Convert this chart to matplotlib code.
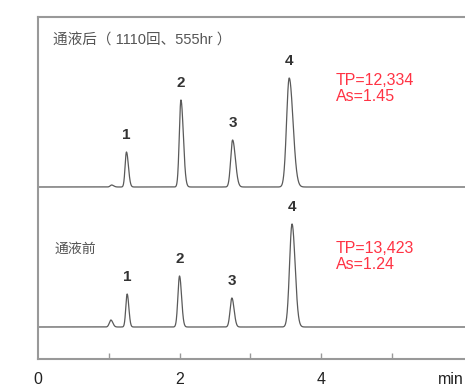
import numpy as np
import matplotlib.pyplot as plt

plt.rcParams['font.family'] = ['Liberation Sans', 'Noto Sans CJK SC', 'DejaVu Sans']

# peak table: retention time (min), height, left sigma (min), tailing factor
after_rt = [1.04, 1.25, 2.02, 2.75, 3.55]
after_h = [2, 35, 87, 47, 109]
after_sig = [0.02, 0.019, 0.023, 0.027, 0.037]
after_as = 1.45
after_tp = '12,334'

before_rt = [1.03, 1.26, 2.00, 2.74, 3.59]
before_h = [7, 33, 51, 29, 103]
before_sig = [0.022, 0.019, 0.023, 0.025, 0.035]
before_as = 1.24
before_tp = '13,423'

peak_names = ['1', '2', '3', '4']

after_base = 172
before_base = 32


def trace(t, rts, hs, sigs, asym):
    y = np.zeros_like(t)
    for rt, h, s in zip(rts, hs, sigs):
        sig = np.where(t < rt, s, s * asym)
        y += h * np.exp(-0.5 * ((t - rt) / sig) ** 2)
    return y


t = np.linspace(0, 6.2, 4000)
y_after = after_base + trace(t, after_rt, after_h, after_sig, after_as)
y_before = before_base + trace(t, before_rt, before_h, before_sig, before_as)

fig = plt.figure(figsize=(4.65, 3.87), dpi=100)
ax = fig.add_axes([38 / 465, 1 - 359 / 387, 1 - 38 / 465 + 0.01, (359 - 17) / 387])

ax.plot(t, y_after, color='#5a5a5a', lw=0.9)
ax.plot(t, y_before, color='#5a5a5a', lw=0.9)

# peak numbers above the apexes
for rt, h, name in zip(after_rt[1:], after_h[1:], peak_names):
    ax.text(rt, after_base + h + 10, name, ha='center', va='bottom',
            fontsize=11, fontweight='bold', color='#333333')
for rt, h, name in zip(before_rt[1:], before_h[1:], peak_names):
    ax.text(rt, before_base + h + 10, name, ha='center', va='bottom',
            fontsize=11, fontweight='bold', color='#333333')

ax.text(0.21, 318, '通液后（ 1110回、555hr ）', fontsize=10.5, color='#555555',
        va='center')
ax.text(0.24, 110, '通液前', fontsize=10, color='#555555', va='center')

ax.text(4.21, 286, 'TP=' + after_tp + '\nAs=%.2f' % after_as, fontsize=11.5,
        color='#ff3344', va='top', linespacing=1.12)
ax.text(4.21, 118, 'TP=' + before_tp + '\nAs=%.2f' % before_as, fontsize=11.5,
        color='#ff3344', va='top', linespacing=1.12)

ax.set_xlim(0, 6.1)
ax.set_ylim(0, 342)
ax.set_xticks([1, 2, 3, 4, 5])
ax.set_xticklabels([])
ax.set_yticks([])
ax.tick_params(axis='x', direction='in', length=4, width=1, color='#999999')

for side in ['left', 'top', 'bottom']:
    ax.spines[side].set_color('#999999')
    ax.spines[side].set_linewidth(1.5)
ax.spines['right'].set_visible(False)

for x, lab in [(0, '0'), (2, '2'), (4, '4')]:
    ax.text(x, -21, lab, ha='center', va='center', fontsize=11.5, color='#222222')
fig.text(0.998, 1 - 380 / 387, 'min', ha='right', va='center', fontsize=11.5,
         color='#222222')

fig.savefig('out.png', dpi=100)
